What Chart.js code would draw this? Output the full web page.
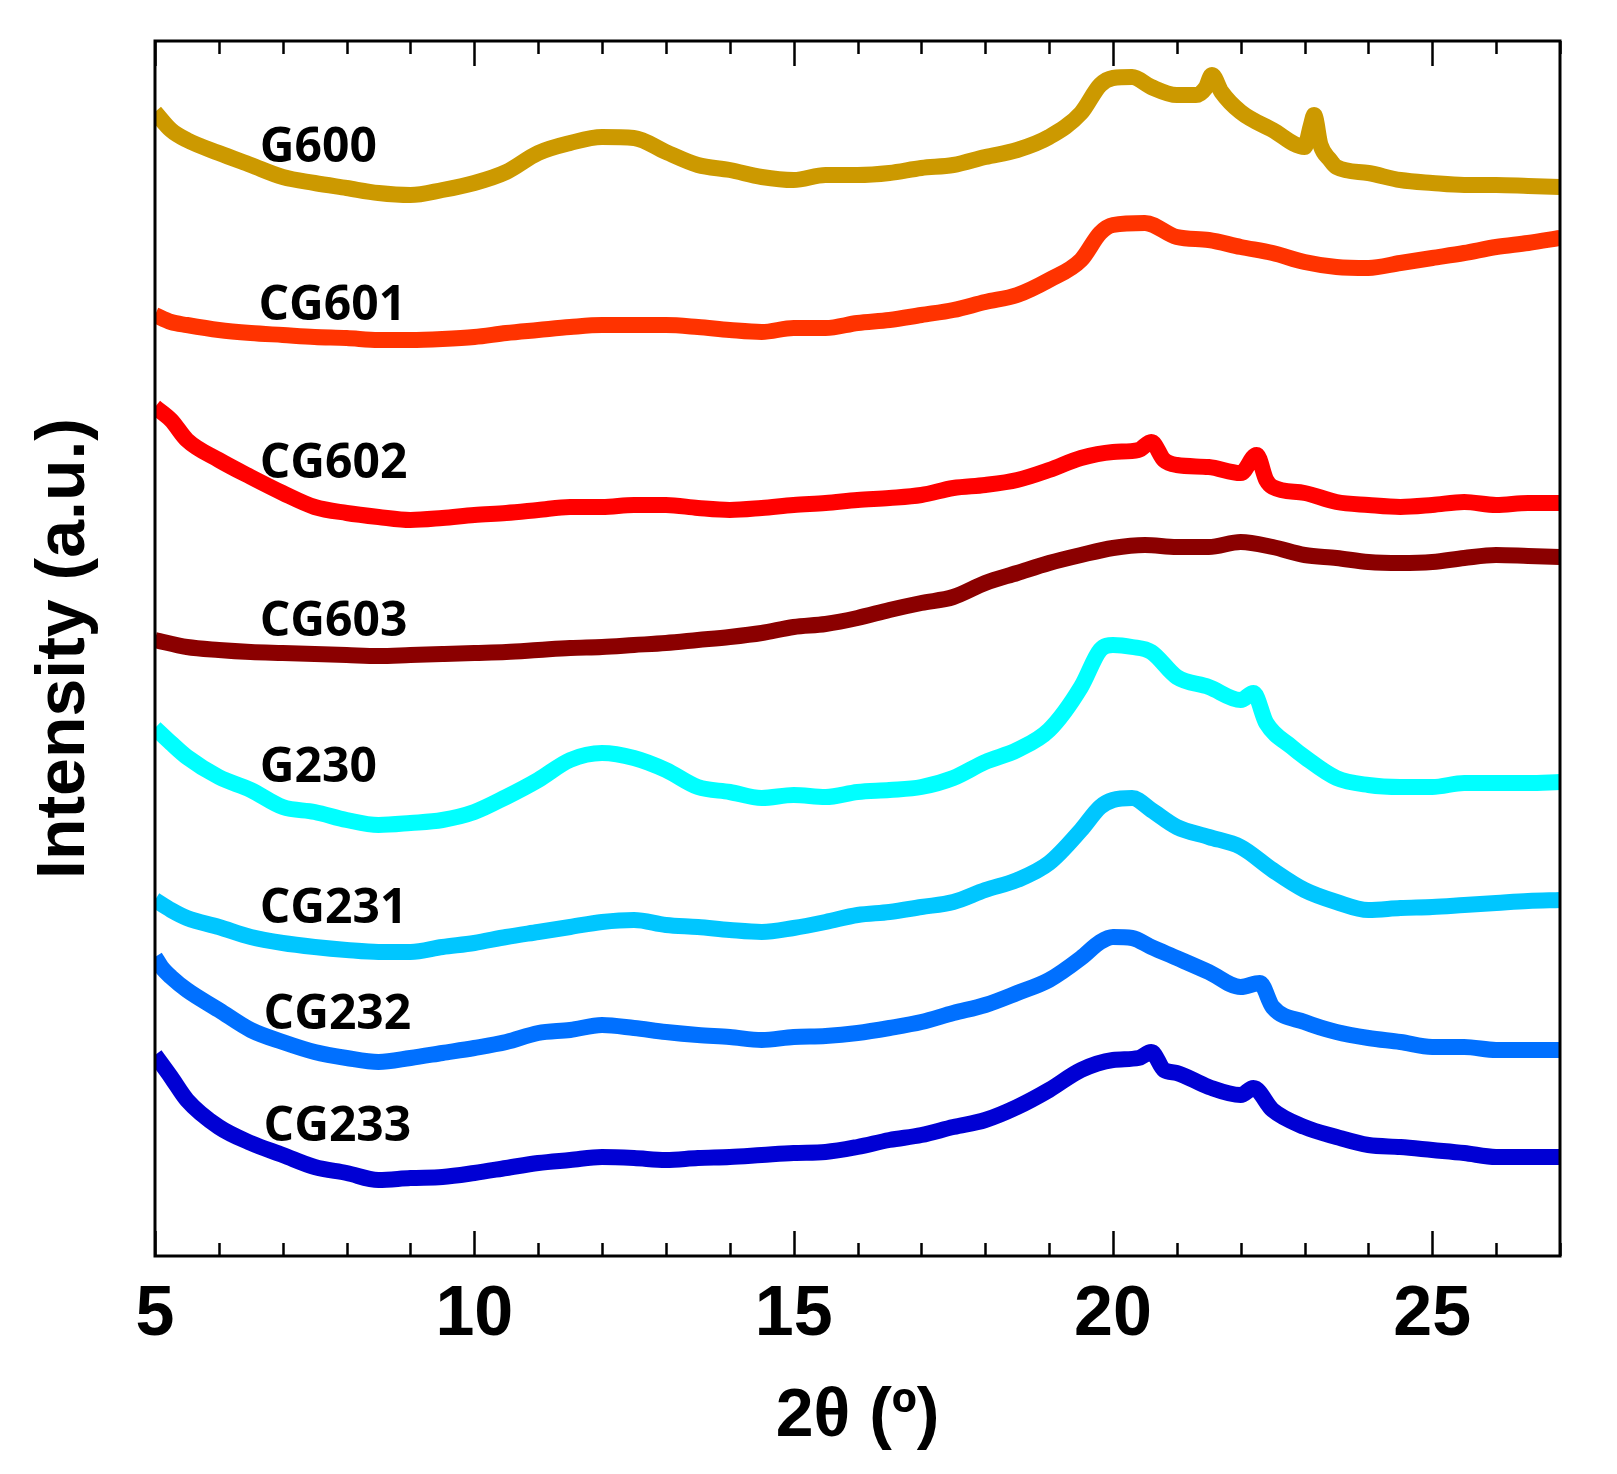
<!DOCTYPE html>
<html>
<head>
<meta charset="utf-8">
<script src="https://cdn.jsdelivr.net/npm/chart.js@4.4.1/dist/chart.umd.min.js"></script>
<style>
  html, body { margin: 0; padding: 0; background: #ffffff; }
  #wrap { width: 1617px; height: 1474px; position: relative; }
</style>
</head>
<body>
<div id="wrap"><canvas id="c" width="1617" height="1474"></canvas></div>
<script>
// ---- Data (2θ in degrees, intensity in arbitrary stacked units) ----
const seriesNames = ['G600', 'CG601', 'CG602', 'CG603', 'G230', 'CG231', 'CG232', 'CG233'];
const seriesColors = ['#CC9900', '#FF3300', '#FF0000', '#8B0000', '#00FFFF', '#00C6FF', '#0070FF', '#0000D4'];

const g600X = [5,5.25,5.5,6,6.5,7,7.5,8,8.5,9,9.5,10,10.5,11,11.5,12,12.5,13,13.5,14,14.5,15,15.5,16,16.5,17,17.5,18,18.5,19,19.5,19.8,20,20.3,20.6,21,21.3,21.45,21.55,21.7,22,22.5,23,23.1,23.15,23.25,23.4,23.5,24,24.5,25,25.5,26,26.5,27];
const g600Y = [1144,1126,1116,1103,1091,1079,1073,1068,1063,1061,1066,1073,1084,1103,1113,1119,1118,1104,1091,1086,1079,1076,1081,1081,1083,1088,1091,1099,1106,1119,1143,1171,1178,1179,1169,1161,1161,1168,1181,1164,1144,1126,1109,1131,1141,1111,1096,1089,1083,1076,1073,1071,1071,1070,1069];

const cg601X = [5,5.25,5.5,6,6.5,7,7.5,8,8.5,9,9.5,10,10.5,11,11.5,12,12.5,13,13.5,14,14.5,15,15.5,16,16.5,17,17.5,18,18.5,19,19.5,19.8,20,20.5,21,21.5,22,22.5,23,23.5,24,24.5,25,25.5,26,26.5,27];
const cg601Y = [941,934,931,926,923,921,919,918,916,916,917,919,923,926,929,931,931,931,929,926,924,928,928,933,936,941,946,954,961,976,996,1023,1031,1033,1019,1016,1009,1003,994,989,988,993,998,1003,1009,1013,1018];

const cg602X = [5,5.25,5.5,6,6.5,7,7.5,8,8.5,9,9.5,10,10.5,11,11.5,12,12.5,13,13.5,14,14.5,15,15.5,16,16.5,17,17.5,18,18.5,19,19.5,20,20.4,20.6,20.8,21,21.5,22,22.25,22.4,22.5,23,23.5,24,24.5,25,25.5,26,26.5,27];
const cg602Y = [849,836,816,796,779,763,749,743,739,736,738,741,743,746,749,749,751,751,748,746,748,751,753,756,758,761,768,771,776,786,798,804,806,814,796,791,789,783,801,776,769,763,754,751,749,751,754,751,753,753];

const cg603X = [5,5.5,6,6.5,7,7.5,8,8.5,9,9.5,10,10.5,11,11.5,12,12.5,13,13.5,14,14.5,15,15.5,16,16.5,17,17.5,18,18.5,19,19.5,20,20.5,21,21.5,22,22.5,23,23.5,24,24.5,25,25.5,26,26.5,27];
const cg603Y = [616,609,606,604,603,602,601,600,601,602,603,604,606,608,609,611,613,616,619,623,629,632,638,646,653,659,673,683,693,701,708,711,709,709,714,709,701,698,694,693,694,698,701,700,699];

const g230X = [5,5.25,5.5,6,6.5,7,7.5,8,8.5,9,9.5,10,10.5,11,11.5,12,12.5,13,13.5,14,14.5,15,15.5,16,16.5,17,17.5,18,18.5,19,19.5,19.8,20,20.3,20.6,21,21.5,22,22.2,22.4,22.8,23,23.5,24,24.5,25,25.5,26,26.5,27];
const g230Y = [528,513,499,479,466,449,444,436,431,433,436,444,459,476,496,503,498,486,469,464,458,461,459,464,466,469,478,494,506,526,569,606,611,609,604,579,569,556,563,533,509,499,478,471,469,469,473,473,473,474];

const cg231X = [5,5.25,5.5,6,6.5,7,7.5,8,8.5,9,9.5,10,10.5,11,11.5,12,12.5,13,13.5,14,14.5,15,15.5,16,16.5,17,17.5,18,18.5,19,19.5,19.8,20,20.3,20.6,21,21.5,22,22.5,23,23.5,24,24.5,25,25.5,26,26.5,27];
const cg231Y = [356,346,338,329,319,313,309,306,304,304,309,313,319,324,329,334,336,331,329,326,324,328,334,341,344,349,354,366,376,393,426,449,456,458,446,429,419,409,386,366,354,346,348,349,351,353,355,356];

const cg232X = [5,5.1,5.25,5.5,6,6.5,7,7.5,8,8.5,9,9.5,10,10.5,11,11.5,12,12.5,13,13.5,14,14.5,15,15.5,16,16.5,17,17.5,18,18.5,19,19.5,19.8,20,20.3,20.6,21,21.5,22,22.3,22.5,23,23.5,24,24.5,25,25.5,26,26.5,27];
const cg232Y = [299,289,279,266,246,226,214,204,198,194,198,203,208,214,223,226,231,228,224,221,219,216,219,220,223,228,234,243,251,263,276,298,314,319,318,309,298,284,269,273,249,234,224,218,214,209,209,206,206,206];

const cg233X = [5,5.25,5.5,6,6.5,7,7.5,8,8.5,9,9.5,10,10.5,11,11.5,12,12.5,13,13.5,14,14.5,15,15.5,16,16.5,17,17.5,18,18.5,19,19.5,20,20.4,20.6,20.8,21,21.5,22,22.2,22.5,23,23.5,24,24.5,25,25.5,26,26.5,27];
const cg233Y = [201,179,156,129,113,101,89,83,76,78,79,83,88,93,96,99,98,96,98,99,101,103,104,109,116,121,129,136,149,166,186,196,198,204,186,183,169,161,168,146,129,119,111,109,106,103,99,99,99];

// curve label anchors (left edge x in degrees, vertical centre in intensity units)
const labelX = [6.64, 6.62, 6.64, 6.64, 6.64, 6.64, 6.70, 6.70];
const labelY = [1110, 952, 794, 636, 490, 349, 243, 131];

// axis settings
const xMin = 5, xMax = 27, xStep = 1, xLabelEvery = 5;
const yMin = 0, yMax = 1215;

const seriesX = [g600X, cg601X, cg602X, cg603X, g230X, cg231X, cg232X, cg233X];
const seriesY = [g600Y, cg601Y, cg602Y, cg603Y, g230Y, cg231Y, cg232Y, cg233Y];

const datasets = seriesNames.map((name, i) => ({
  label: name,
  data: seriesX[i].map((x, j) => ({ x: x, y: seriesY[i][j] })),
  borderColor: seriesColors[i],
  backgroundColor: seriesColors[i],
  borderWidth: 16,
  pointRadius: 0,
  tension: 0.35,
  cubicInterpolationMode: 'monotone',
  fill: false,
  borderCapStyle: 'butt',
  borderJoinStyle: 'round'
}));

const framePlugin = {
  id: 'frameTicks',
  afterDatasetsDraw(chart) {
    const { ctx, chartArea: a, scales } = chart;
    const xs = scales.x;
    ctx.save();
    ctx.strokeStyle = '#000';
    ctx.lineWidth = 2.5;
    ctx.beginPath();
    xs.ticks.forEach(t => {
      const px = Math.round(xs.getPixelForValue(t.value)) + 0.5;
      const len = (t.value % xLabelEvery === 0) ? 25 : 13;
      ctx.moveTo(px, a.bottom); ctx.lineTo(px, a.bottom - len);
      ctx.moveTo(px, a.top); ctx.lineTo(px, a.top + len);
    });
    ctx.stroke();
    ctx.lineWidth = 3;
    ctx.strokeRect(a.left, a.top, a.right - a.left, a.bottom - a.top);
    // curve labels
    ctx.fillStyle = '#000';
    ctx.font = 'bold 48px "Open Sans", "Noto Sans", sans-serif';
    ctx.textAlign = 'left';
    ctx.textBaseline = 'middle';
    seriesNames.forEach((n, i) => {
      ctx.fillText(n, xs.getPixelForValue(labelX[i]), scales.y.getPixelForValue(labelY[i]) + 2);
    });
    ctx.restore();
  }
};

new Chart(document.getElementById('c'), {
  type: 'line',
  data: { datasets },
  options: {
    responsive: false,
    animation: false,
    devicePixelRatio: 1,
    layout: { padding: { left: 0, right: 57, top: 41, bottom: 0 } },
    plugins: { legend: { display: false }, tooltip: { enabled: false } },
    scales: {
      x: {
        type: 'linear',
        min: xMin, max: xMax,
        grid: { display: false, drawTicks: false },
        border: { display: false },
        ticks: {
          stepSize: xStep,
          autoSkip: false,
          maxRotation: 0,
          padding: 18,
          color: '#000',
          font: { family: '"Liberation Sans", Arial, sans-serif', size: 70, weight: 'bold' },
          callback: v => (v % xLabelEvery === 0 ? String(v) : '')
        },
        title: {
          display: true,
          text: '2θ (º)',
          color: '#000',
          font: { family: '"Liberation Sans", Arial, sans-serif', size: 68, weight: 'bold' },
          padding: { top: 0, bottom: 16 }
        },
        afterFit(s) { s.height = 218; }
      },
      y: {
        type: 'linear',
        min: yMin, max: yMax,
        grid: { display: false, drawTicks: false },
        border: { display: false },
        ticks: { display: false },
        title: {
          display: true,
          text: 'Intensity (a.u.)',
          color: '#000',
          font: { family: '"Liberation Sans", Arial, sans-serif', size: 68, weight: 'bold' },
          padding: { top: 24, bottom: 0 }
        },
        afterFit(s) { s.width = 155; }
      }
    }
  },
  plugins: [framePlugin]
});
</script>
</body>
</html>
